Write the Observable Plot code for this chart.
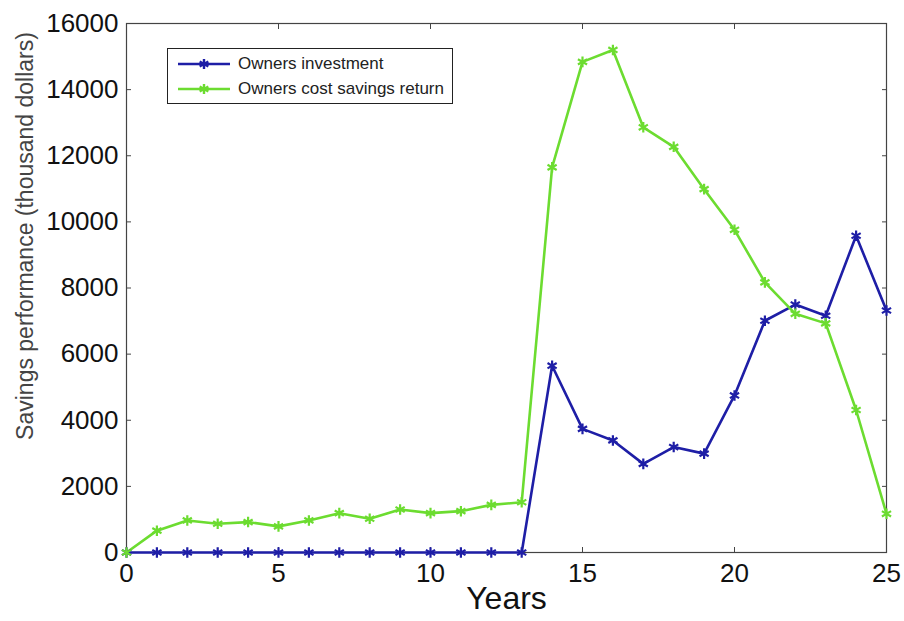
<!DOCTYPE html>
<html>
<head>
<meta charset="utf-8">
<script src="https://cdn.jsdelivr.net/npm/d3@7"></script>
<script src="https://cdn.jsdelivr.net/npm/@observablehq/plot@0.6"></script>
<style>
  html, body { margin: 0; padding: 0; background: #fff; }
  #wrap { position: relative; width: 904px; height: 621px; font-family: "Liberation Sans", Arial, sans-serif; }
  #legend { position: absolute; left: 167px; top: 48px; width: 284px; height: 54px; border: 1.5px solid #222; background: #fff; box-sizing: content-box; }
  .row { position: absolute; left: 8px; height: 22px; display: flex; align-items: center; font-size: 17px; color: #222; }
  .row svg { margin-right: 6px; }
</style>
</head>
<body>
<div id="wrap"><div id="legend"></div></div>
<script>
const years = [0,1,2,3,4,5,6,7,8,9,10,11,12,13,14,15,16,17,18,19,20,21,22,23,24,25];
const ownersInvestment = [0,0,0,0,0,0,0,0,0,0,0,0,0,0,5650,3740,3390,2680,3190,2990,4750,7010,7500,7160,9580,7320];
const ownersSavingsReturn = [0,660,970,870,920,790,970,1190,1020,1300,1190,1250,1440,1520,11650,14840,15200,12860,12270,10990,9760,8170,7220,6930,4310,1170];
const seriesNames = ["Owners investment", "Owners cost savings return"];
const seriesColors = ["#1e1ea6", "#6cdc30"];
const xTicks = [0,5,10,15,20,25];
const yTicks = [0,2000,4000,6000,8000,10000,12000,14000,16000];
const xTitle = "Years";
const yTitle = "Savings performance (thousand dollars)";

const data = [];
years.forEach((y, i) => {
  data.push({year: y, value: ownersInvestment[i], series: seriesNames[0]});
  data.push({year: y, value: ownersSavingsReturn[i], series: seriesNames[1]});
});

const chart = Plot.plot({
  width: 904,
  height: 621,
  marginLeft: 126,
  marginRight: 18,
  marginTop: 23,
  marginBottom: 69,
  style: {fontFamily: "'Liberation Sans', Arial, sans-serif", background: "#fff", color: "#222"},
  x: {domain: [0, 25]},
  y: {domain: [0, 16000]},
  color: {domain: seriesNames, range: seriesColors},
  marks: [
    Plot.frame({stroke: "#444", strokeWidth: 1.2}),
    // inward ticks on all four sides
    Plot.axisX(xTicks, {anchor: "bottom", tickSize: -5, tickFormat: () => "", label: null, stroke: "#444"}),
    Plot.axisX(xTicks, {anchor: "top", tickSize: -5, tickFormat: () => "", label: null, stroke: "#444"}),
    Plot.axisY(yTicks, {anchor: "left", tickSize: -5, tickFormat: () => "", label: null, stroke: "#444"}),
    Plot.axisY(yTicks, {anchor: "right", tickSize: -5, tickFormat: () => "", label: null, stroke: "#444"}),
    // tick labels
    Plot.axisX(xTicks, {anchor: "bottom", tickSize: 0, tickPadding: 11, fontSize: 26, label: null, fill: "#111"}),
    Plot.axisY(yTicks, {anchor: "left", tickSize: 0, tickPadding: 8, fontSize: 26, label: null, fill: "#111", tickFormat: d => String(d)}),
    // axis titles
    Plot.axisX([], {anchor: "bottom", label: xTitle, labelAnchor: "center", labelArrow: false, labelOffset: 56, fontSize: 32, fill: "#111"}),
    Plot.text([yTitle], {text: d => d, frameAnchor: "left", rotate: -90, dx: -101, dy: -52, textAnchor: "middle", lineAnchor: "middle", fontSize: 23, fill: "#444"}),
    Plot.line(data, {x: "year", y: "value", stroke: "series", strokeWidth: 2.6}),
    Plot.dot(data, {x: "year", y: "value", stroke: "series", symbol: "asterisk", r: 5, strokeWidth: 2.2})
  ]
});
document.getElementById("wrap").prepend(chart);

// Legend inside the axes, built from the same series arrays
const legend = document.getElementById("legend");
const starPath = d3.symbol(d3.symbolAsterisk, 70)();
seriesNames.forEach((name, i) => {
  const row = document.createElement("div");
  row.className = "row";
  row.style.top = (4 + i * 25) + "px";
  row.innerHTML = `<svg width="56" height="20"><line x1="2" y1="10" x2="54" y2="10" stroke="${seriesColors[i]}" stroke-width="2.4"/><path d="${starPath}" transform="translate(28,10)" fill="none" stroke="${seriesColors[i]}" stroke-width="2.4"/></svg><span>${name}</span>`;
  legend.appendChild(row);
});
</script>
</body>
</html>
